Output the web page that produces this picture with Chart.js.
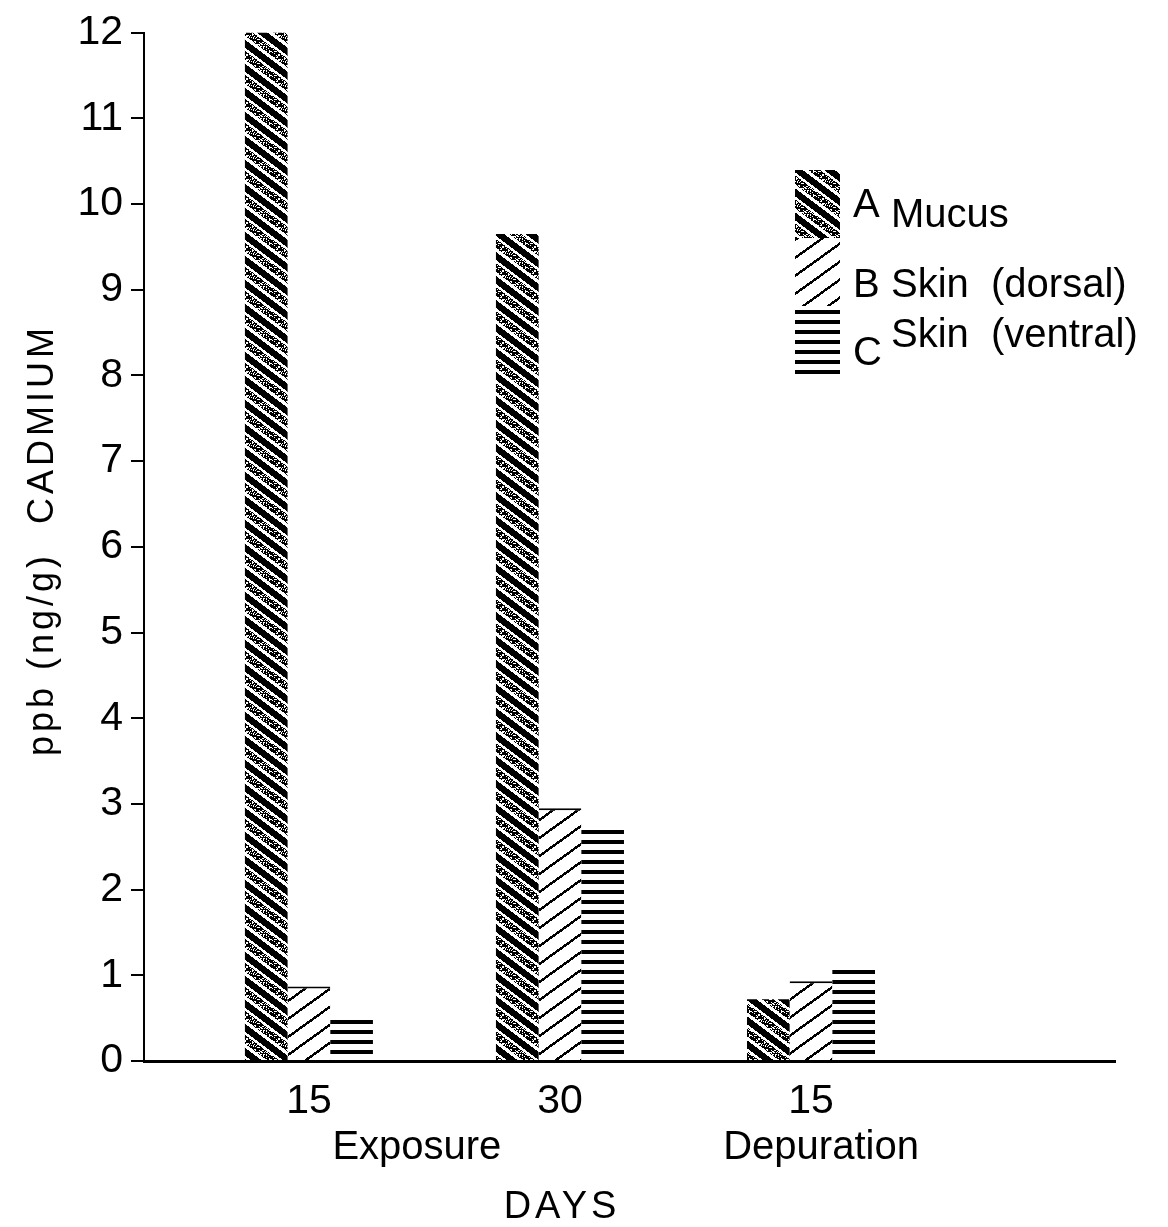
<!DOCTYPE html>
<html>
<head>
<meta charset="utf-8">
<title>Cadmium in mucus and skin</title>
<script src="https://cdn.jsdelivr.net/npm/chart.js@4.4.1/dist/chart.umd.min.js"></script>
<style>
  html, body { margin: 0; padding: 0; background: #ffffff; }
  canvas { display: block; }
</style>
</head>
<body>
<canvas id="chart" width="1168" height="1227"></canvas>
<script>
// ---- data ----
const dayLabels = ['15', '30', '15'];
const groupX = [1, 2, 3];
const phaseNames = ['Exposure', 'Depuration'];
const seriesLetters = ['A', 'B', 'C'];
const seriesNames = ['Mucus', 'Skin  (dorsal)', 'Skin  (ventral)'];
const mucus = [12.0, 9.65, 0.72];
const skinDorsal = [0.87, 2.95, 0.93];
const skinVentral = [0.52, 2.7, 1.1];
const yAxisTitle = 'ppb (ng/g)  CADMIUM';
const xAxisTitle = 'DAYS';

// ---- layout / style ----
const FONT = '"Liberation Sans", Arial, sans-serif';
const INK = '#000000';
const phaseAt = [1.43, 3.04];          // phase label centres, in x-axis units
const legendBox = { x: 795, top: 170, w: 45, rowH: 68, letterX: 853, nameX: 891,
                    letterBase: [217, 297, 365], nameBase: [227, 297, 347] };

const canvas = document.getElementById('chart');
const ctx = canvas.getContext('2d');

// Hatch fills built pixel by pixel so they tile seamlessly.
function speck(x, y) {
  const s = Math.sin(x * 12.9898 + y * 78.233) * 43758.5453;
  return s - Math.floor(s);
}
function makeFill(w, h, isInk) {
  const tile = document.createElement('canvas');
  tile.width = w; tile.height = h;
  const g = tile.getContext('2d');
  const img = g.createImageData(w, h);
  for (let y = 0; y < h; y++) {
    for (let x = 0; x < w; x++) {
      const v = isInk(x, y) ? 0 : 255;
      const i = (y * w + x) * 4;
      img.data[i] = img.data[i + 1] = img.data[i + 2] = v;
      img.data[i + 3] = 255;
    }
  }
  g.putImageData(img, 0, 0);
  return ctx.createPattern(tile, 'repeat');
}
// A: heavy "\" bands alternating solid and speckled
const mucusFill = makeFill(32, 24, (x, y) => {
  const p = (((y - x * 24 / 32) % 24) + 24) % 24;
  if (p < 8) return true;
  if (p < 11) return false;
  if (p < 20) return speck(x, y) > 0.3;
  return false;
});
// B: thin "/" lines
const dorsalFill = makeFill(25, 18, (x, y) => {
  const p = (((y + x * 18 / 25) % 18) + 18) % 18;
  return p < 3;
});
// C: horizontal rules
const ventralFill = makeFill(8, 10, (x, y) => (y % 10) < 4);

const fills = [mucusFill, dorsalFill, ventralFill];
const values = [mucus, skinDorsal, skinVentral];

const datasets = values.map((vals, s) => ({
  label: seriesNames[s],
  data: groupX.map((x, i) => ({ x: x, y: vals[i] })),
  backgroundColor: fills[s],
  borderColor: INK,
  borderWidth: s === 1 ? { top: 2, left: 0, right: 0, bottom: 0 } : 0,
  categoryPercentage: 0.51,
  barPercentage: 1.0
}));

// Extra text: axis titles, phase names under the day ticks, and the key.
const annotations = {
  id: 'annotations',
  afterDraw(chart) {
    const c = chart.ctx;
    const xs = chart.scales.x;
    c.save();
    c.fillStyle = INK;

    // y-axis title
    c.save();
    c.font = `36px ${FONT}`;
    c.letterSpacing = '4px';
    c.textAlign = 'center';
    c.textBaseline = 'alphabetic';
    c.translate(53, 540);
    c.rotate(-Math.PI / 2);
    c.fillText(yAxisTitle, 0, 0);
    c.restore();

    // phase names
    c.font = `40px ${FONT}`;
    c.textAlign = 'center';
    c.textBaseline = 'alphabetic';
    phaseNames.forEach((name, i) => {
      c.fillText(name, xs.getPixelForValue(phaseAt[i]), 1159);
    });

    // x-axis title
    c.save();
    c.font = `38px ${FONT}`;
    c.letterSpacing = '4px';
    c.fillText(xAxisTitle, 562, 1218);
    c.restore();

    // key
    chart.data.datasets.forEach((ds, i) => {
      const top = legendBox.top + i * legendBox.rowH;
      c.fillStyle = ds.backgroundColor;
      c.fillRect(legendBox.x, top, legendBox.w, legendBox.rowH);
      c.fillStyle = INK;
      c.font = `40px ${FONT}`;
      c.textAlign = 'left';
      c.fillText(seriesLetters[i], legendBox.letterX, legendBox.letterBase[i]);
      c.fillText(seriesNames[i], legendBox.nameX, legendBox.nameBase[i]);
    });
    c.restore();
  }
};

new Chart(ctx, {
  type: 'bar',
  data: { datasets: datasets },
  options: {
    responsive: false,
    animation: false,
    devicePixelRatio: 1,
    layout: { padding: { left: 0, top: 29, right: 53, bottom: 0 } },
    plugins: {
      legend: { display: false },
      tooltip: { enabled: false }
    },
    scales: {
      x: {
        type: 'linear',
        min: 0.343,
        max: 4.211,
        offset: false,
        afterBuildTicks: (scale) => { scale.ticks = groupX.map(v => ({ value: v })); },
        afterFit: (scale) => { scale.height = 166; },
        grid: { display: true, drawOnChartArea: false, drawTicks: false, tickLength: 0 },
        border: { display: true, color: INK, width: 3 },
        ticks: {
          autoSkip: false,
          maxRotation: 0,
          padding: 16,
          color: INK,
          font: { family: FONT, size: 41 },
          callback: (value) => dayLabels[groupX.indexOf(value)]
        }
      },
      y: {
        min: 0,
        max: 12,
        afterFit: (scale) => { scale.width = 144; },
        grid: { drawOnChartArea: false, drawTicks: true, tickLength: 13, color: INK, lineWidth: 2 },
        border: { display: true, color: INK, width: 2 },
        ticks: {
          stepSize: 1,
          padding: 8,
          color: INK,
          font: { family: FONT, size: 41 }
        }
      }
    }
  },
  plugins: [annotations]
});
</script>
</body>
</html>
